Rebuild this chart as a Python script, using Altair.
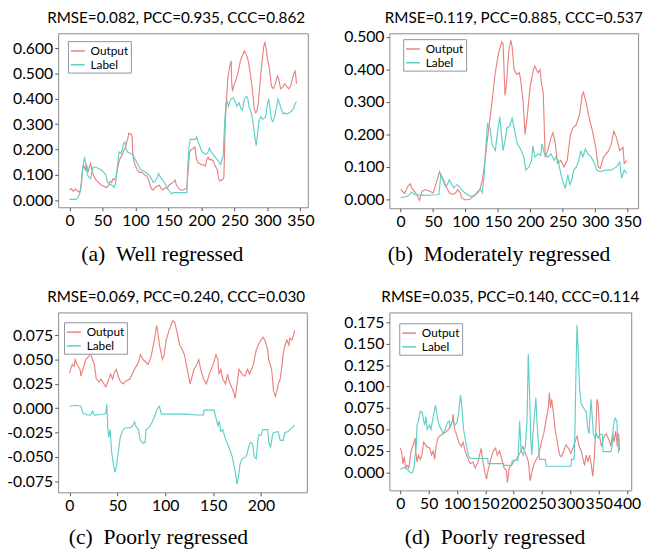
import altair as alt
import pandas as pd

# ---------------- data (t, value) ----------------
a_output = [(0,0.040),(3,0.045),(6,0.035),(9,0.045),(12,0.038),(14,0.032),(16,0.035),(18,0.07),(20,0.13),(22,0.135),(24,0.12),(26,0.14),(28,0.11),(30,0.13),(32,0.145),(34,0.12),(36,0.10),(40,0.08),(44,0.07),(48,0.06),(52,0.055),(56,0.05),(60,0.06),(62,0.075),(64,0.07),(66,0.085),(68,0.08),(70,0.09),(72,0.11),(74,0.14),(76,0.16),(78,0.17),(80,0.18),(82,0.195),(84,0.205),(86,0.22),(88,0.24),(90,0.265),(92,0.26),(94,0.26),(95,0.25),(96,0.18),(98,0.15),(100,0.135),(103,0.12),(106,0.11),(110,0.11),(114,0.10),(117,0.095),(120,0.08),(122,0.06),(124,0.045),(127,0.04),(130,0.05),(133,0.055),(136,0.06),(139,0.045),(142,0.04),(145,0.05),(148,0.045),(151,0.06),(154,0.065),(157,0.07),(160,0.08),(162,0.06),(165,0.05),(168,0.04),(172,0.04),(176,0.045),(178,0.05),(180,0.12),(182,0.19),(185,0.20),(188,0.205),(190,0.21),(192,0.17),(194,0.15),(197,0.145),(200,0.14),(203,0.14),(206,0.135),(208,0.16),(210,0.17),(212,0.16),(215,0.16),(218,0.155),(220,0.14),(222,0.13),(224,0.12),(226,0.085),(228,0.075),(230,0.08),(232,0.08),(234,0.09),(236,0.30),(238,0.40),(240,0.48),(243,0.53),(245,0.55),(246,0.46),(247,0.43),(250,0.46),(253,0.48),(256,0.51),(259,0.55),(262,0.57),(265,0.59),(268,0.575),(271,0.55),(274,0.50),(277,0.44),(280,0.36),(282,0.345),(284,0.35),(286,0.38),(288,0.44),(290,0.50),(292,0.55),(294,0.60),(296,0.625),(298,0.60),(300,0.56),(303,0.52),(306,0.45),(309,0.44),(312,0.46),(315,0.49),(317,0.48),(320,0.44),(323,0.445),(326,0.46),(329,0.45),(332,0.44),(335,0.45),(338,0.48),(340,0.50),(342,0.51),(343,0.49),(344,0.46)]
a_label = [(0,0.003),(5,0.003),(10,0.004),(13,0.01),(16,0.03),(18,0.06),(20,0.12),(22,0.16),(23,0.167),(25,0.14),(27,0.10),(30,0.09),(32,0.085),(34,0.11),(36,0.13),(40,0.13),(44,0.125),(48,0.12),(52,0.11),(55,0.10),(57,0.075),(60,0.065),(64,0.06),(68,0.05),(70,0.07),(73,0.14),(75,0.19),(78,0.185),(80,0.20),(82,0.225),(84,0.23),(86,0.20),(88,0.19),(92,0.185),(96,0.18),(100,0.16),(104,0.14),(108,0.12),(112,0.115),(116,0.11),(120,0.10),(124,0.085),(127,0.07),(130,0.075),(133,0.09),(135,0.105),(138,0.09),(141,0.08),(144,0.07),(147,0.055),(150,0.04),(153,0.03),(155,0.025),(157,0.03),(165,0.03),(172,0.03),(178,0.03),(179,0.12),(181,0.21),(183,0.24),(187,0.24),(191,0.24),(193,0.25),(195,0.23),(198,0.21),(201,0.19),(204,0.185),(207,0.18),(210,0.19),(212,0.205),(215,0.19),(218,0.18),(221,0.17),(224,0.16),(227,0.15),(229,0.14),(231,0.16),(233,0.175),(235,0.30),(237,0.38),(239,0.39),(241,0.37),(243,0.39),(245,0.40),(248,0.405),(251,0.39),(254,0.37),(257,0.385),(260,0.36),(262,0.355),(265,0.40),(268,0.41),(270,0.405),(272,0.37),(275,0.35),(278,0.31),(280,0.27),(282,0.23),(283,0.215),(285,0.26),(287,0.31),(290,0.33),(293,0.32),(296,0.325),(298,0.34),(300,0.38),(302,0.40),(304,0.36),(306,0.32),(308,0.31),(311,0.33),(314,0.37),(316,0.40),(318,0.385),(321,0.36),(324,0.34),(327,0.345),(330,0.34),(333,0.345),(336,0.35),(339,0.36),(342,0.38),(344,0.39)]

b_output = [(0,0.03),(6,0.018),(11,0.04),(15,0.048),(17,0.035),(21,0.025),(26,0.01),(29,-0.003),(33,0.025),(38,0.03),(45,0.025),(50,0.02),(55,0.05),(60,0.085),(62,0.075),(66,0.06),(70,0.04),(75,0.02),(80,0.015),(85,0.02),(88,0.03),(92,0.02),(94,0.005),(100,-0.002),(107,0.0),(112,0.01),(119,0.02),(123,0.035),(126,0.06),(129,0.10),(133,0.17),(136,0.22),(141,0.30),(146,0.39),(151,0.45),(156,0.485),(158,0.48),(161,0.32),(163,0.35),(167,0.46),(170,0.49),(172,0.47),(175,0.40),(179,0.385),(183,0.39),(185,0.37),(189,0.30),(192,0.20),(195,0.25),(200,0.35),(205,0.40),(207,0.41),(212,0.39),(215,0.40),(217,0.36),(220,0.33),(223,0.13),(227,0.15),(232,0.19),(235,0.205),(238,0.18),(242,0.11),(247,0.12),(252,0.10),(257,0.12),(262,0.20),(266,0.22),(271,0.23),(276,0.26),(280,0.32),(282,0.33),(286,0.30),(291,0.25),(296,0.21),(301,0.16),(305,0.10),(308,0.095),(313,0.13),(321,0.15),(325,0.17),(329,0.21),(333,0.19),(338,0.15),(343,0.16),(345,0.11),(349,0.12)]
b_label = [(0,0.005),(11,0.01),(17,0.022),(21,0.015),(35,0.012),(55,0.014),(59,0.015),(62,0.078),(65,0.06),(69,0.04),(72,0.045),(75,0.06),(79,0.045),(82,0.035),(87,0.045),(90,0.04),(94,0.03),(99,0.02),(107,0.01),(114,0.01),(119,0.025),(123,0.03),(126,0.02),(129,0.08),(131,0.15),(134,0.232),(138,0.22),(141,0.17),(146,0.15),(149,0.20),(153,0.254),(156,0.19),(158,0.15),(161,0.18),(164,0.22),(168,0.225),(172,0.25),(175,0.22),(180,0.17),(185,0.155),(190,0.13),(193,0.09),(198,0.10),(202,0.12),(204,0.165),(207,0.13),(212,0.14),(216,0.135),(218,0.17),(222,0.14),(227,0.13),(232,0.14),(237,0.12),(239,0.13),(243,0.12),(247,0.08),(251,0.05),(254,0.035),(258,0.075),(261,0.045),(264,0.06),(267,0.09),(271,0.10),(275,0.12),(278,0.15),(281,0.13),(285,0.155),(289,0.14),(294,0.13),(298,0.115),(303,0.09),(308,0.085),(316,0.09),(325,0.09),(333,0.10),(338,0.115),(341,0.065),(345,0.09),(349,0.08)]

c_output = [(0,0.036),(3,0.045),(5,0.043),(6,0.05),(8,0.045),(11,0.04),(12,0.033),(14,0.04),(17,0.05),(20,0.053),(22,0.057),(24,0.05),(26,0.045),(28,0.03),(31,0.027),(33,0.03),(36,0.025),(38,0.022),(40,0.027),(43,0.035),(45,0.03),(47,0.037),(49,0.04),(51,0.032),(53,0.028),(56,0.025),(59,0.028),(63,0.03),(66,0.036),(69,0.042),(72,0.047),(74,0.055),(77,0.05),(79,0.048),(82,0.045),(85,0.052),(87,0.062),(89,0.072),(91,0.085),(92,0.08),(94,0.065),(97,0.05),(99,0.055),(101,0.07),(104,0.08),(106,0.085),(108,0.09),(110,0.088),(113,0.075),(115,0.065),(117,0.062),(120,0.055),(122,0.045),(125,0.03),(126,0.025),(130,0.04),(133,0.045),(135,0.05),(137,0.04),(140,0.03),(143,0.025),(146,0.035),(150,0.045),(153,0.055),(155,0.05),(156,0.035),(158,0.04),(160,0.03),(163,0.025),(165,0.035),(167,0.027),(170,0.02),(172,0.015),(173,0.01),(175,0.025),(177,0.04),(180,0.035),(183,0.033),(186,0.04),(188,0.035),(192,0.045),(195,0.06),(198,0.067),(202,0.073),(204,0.07),(207,0.06),(208,0.05),(211,0.04),(212,0.03),(213,0.018),(215,0.012),(217,0.02),(218,0.025),(220,0.03),(222,0.045),(223,0.055),(225,0.065),(227,0.07),(229,0.065),(230,0.072),(232,0.07),(234,0.075),(235,0.08)]
c_label = [(0,0.002),(6,0.003),(12,0.002),(14,-0.005),(19,-0.007),(22,-0.007),(24,-0.003),(26,-0.007),(36,-0.006),(38,-0.005),(39,0.004),(40,-0.02),(41,-0.03),(42.5,-0.022),(44,-0.045),(46,-0.058),(47.5,-0.066),(49,-0.06),(51,-0.045),(53,-0.03),(56,-0.022),(59,-0.02),(64,-0.02),(66,-0.018),(68,-0.014),(69,-0.018),(72,-0.022),(74,-0.033),(77,-0.036),(79,-0.035),(80,-0.022),(83,-0.02),(86,-0.015),(89,-0.008),(92,0.0),(94,0.002),(96,-0.006),(103,-0.006),(120,-0.006),(133,-0.007),(140,-0.007),(140.5,-0.002),(151,-0.002),(153,-0.01),(155,-0.018),(156.5,-0.013),(158,-0.024),(160,-0.022),(163,-0.032),(166.5,-0.04),(170,-0.05),(171.5,-0.058),(173,-0.065),(175,-0.078),(176.5,-0.07),(178,-0.058),(180,-0.052),(184,-0.05),(185.5,-0.047),(187,-0.04),(189,-0.035),(191,-0.036),(193,-0.05),(195,-0.052),(197,-0.03),(198,-0.027),(200,-0.028),(202,-0.022),(207,-0.022),(208,-0.035),(210,-0.04),(212,-0.027),(213,-0.025),(218,-0.024),(220,-0.033),(223,-0.033),(225,-0.025),(228.5,-0.024),(230,-0.022),(232.5,-0.02),(235,-0.017)]

d_output = [(0,0.028),(2,0.024),(4.5,0.01),(7,0.018),(9,0.005),(12,0.008),(15,0.005),(17,0.015),(19,0.025),(21.5,0.03),(24,0.035),(26,0.04),(27,0.025),(29.4,0.012),(32,0.02),(35,0.015),(38,0.02),(41,0.035),(43.5,0.033),(46,0.03),(52,0.028),(55,0.02),(58,0.025),(60.5,0.015),(63,0.03),(66,0.04),(69,0.042),(75,0.045),(80,0.047),(85,0.05),(89,0.055),(92,0.06),(93,0.068),(95.6,0.05),(98.5,0.045),(103,0.035),(107.5,0.03),(111,0.035),(114,0.025),(118,0.018),(123,0.01),(128,0.012),(132,0.005),(137,0.012),(142.6,0.028),(145,0.015),(149,0.0),(152,-0.008),(155,0.003),(159.5,0.015),(164,0.025),(168,0.028),(171,0.02),(175,0.025),(179,0.015),(183,0.005),(187,0.002),(189,-0.012),(192,0.005),(196,0.008),(200,0.012),(205,0.015),(209,0.02),(213,0.025),(216,0.03),(219,0.025),(222,0.02),(226,0.012),(229,-0.01),(232,0.0),(236,0.01),(240,0.015),(244,0.02),(249,0.035),(253,0.045),(257,0.06),(261,0.075),(263,0.093),(265,0.075),(267,0.085),(270,0.07),(273,0.05),(277,0.035),(281,0.02),(284,0.018),(288.5,0.025),(292.5,0.032),(296.5,0.028),(301,0.022),(305.5,0.03),(309.5,0.038),(312,0.042),(315.7,0.03),(319,0.025),(322.5,0.015),(325,0.008),(328,0.02),(331,0.012),(334,0.02),(336.6,0.01),(339.5,-0.005),(342,0.015),(345,0.05),(347,0.085),(349,0.08),(352,0.04),(355,0.03),(358.7,0.04),(363,0.045),(368,0.038),(371.7,0.03),(374.5,0.045),(377,0.035),(380,0.048),(383,0.03),(385,0.045),(387,0.025)]
d_label = [(0,0.003),(4,0.005),(10,0.005),(14,0.002),(17,0.0),(21,-0.001),(24,0.005),(25.5,0.018),(28,0.03),(29.4,0.055),(32,0.06),(35,0.071),(38.5,0.07),(41,0.06),(43,0.055),(45,0.065),(47.5,0.05),(51,0.055),(54,0.05),(56.5,0.06),(59.4,0.07),(62,0.078),(65,0.065),(68,0.055),(72,0.05),(76,0.045),(79,0.05),(83,0.058),(86,0.06),(88,0.052),(90.5,0.058),(93,0.06),(96,0.055),(100,0.058),(103,0.07),(106,0.09),(108.6,0.075),(111.5,0.05),(115.4,0.035),(120,0.02),(123,0.016),(137,0.016),(154,0.016),(155,0.01),(182,0.01),(183,0.008),(196,0.008),(197.5,0.014),(207.6,0.014),(210.5,0.06),(213,0.025),(217,0.02),(220.6,0.03),(223.5,0.06),(225.7,0.138),(228,0.09),(230,0.04),(232,0.02),(234,0.045),(237,0.07),(239,0.087),(241,0.06),(243,0.04),(245.5,0.015),(255.7,0.015),(257.4,0.007),(281,0.007),(301,0.007),(302,0.015),(306.6,0.015),(307.8,0.04),(310,0.12),(311.7,0.172),(314,0.14),(316,0.10),(319,0.08),(323.5,0.075),(328,0.07),(331,0.05),(333,0.045),(335,0.07),(336.6,0.085),(338,0.07),(340.6,0.045),(343.4,0.04),(346,0.045),(349,0.04),(352,0.044),(356.4,0.044),(357.6,0.024),(366,0.024),(371.7,0.024),(373.4,0.03),(376,0.055),(379,0.063),(382,0.06),(385,0.022)]

titles = ["RMSE=0.082, PCC=0.935, CCC=0.862", "RMSE=0.119, PCC=0.885, CCC=0.537",
          "RMSE=0.069, PCC=0.240, CCC=0.030", "RMSE=0.035, PCC=0.140, CCC=0.114"]
captions = ["(a)\u2002Well regressed", "(b)\u2002Moderately regressed",
            "(c)\u2002Poorly regressed", "(d)\u2002Poorly regressed"]
series_names = ["Output", "Label"]
x_ticks_ab = [0, 50, 100, 150, 200, 250, 300, 350]
x_ticks_c = [0, 50, 100, 150, 200]
x_ticks_d = [0, 50, 100, 150, 200, 250, 300, 350, 400]
y_ticks_a = [0.0, 0.1, 0.2, 0.3, 0.4, 0.5, 0.6]
y_ticks_b = [0.0, 0.1, 0.2, 0.3, 0.4, 0.5]
y_ticks_c = [-0.075, -0.05, -0.025, 0.0, 0.025, 0.05, 0.075]
y_ticks_d = [0.0, 0.025, 0.05, 0.075, 0.1, 0.125, 0.15, 0.175]

OUT_COLOR = "#E8827E"
LAB_COLOR = "#5CCFC8"
Y_LABEL_EXPR = "replace(format(datum.value, '.3f'), '\u2212', '-')"


def make_df(out, lab):
    rows = [{"t": t, "v": v, "series": "Output"} for t, v in out]
    rows += [{"t": t, "v": v, "series": "Label"} for t, v in lab]
    return pd.DataFrame(rows)


def panel(df, title, caption, xdom, xticks, ydom, yticks, w, h, leg, cap, tdx, toff):
    return alt.Chart(df).mark_line(strokeWidth=1.15).encode(
        x=alt.X("t:Q", scale=alt.Scale(domain=xdom, nice=False, zero=False),
                axis=alt.Axis(values=xticks, format="d", title=caption,
                              titleX=cap[0], titleY=cap[1], titleAlign="center",
                              titleBaseline="middle", labelFlush=False, labelOverlap=False)),
        y=alt.Y("v:Q", scale=alt.Scale(domain=ydom, nice=False, zero=False),
                axis=alt.Axis(values=yticks, labelExpr=Y_LABEL_EXPR, title=None, labelOverlap=False)),
        color=alt.Color("series:N", sort=series_names,
                        scale=alt.Scale(domain=series_names, range=[OUT_COLOR, LAB_COLOR]),
                        legend=alt.Legend(title=None, orient="none", legendX=leg[0], legendY=leg[1])),
    ).properties(width=w, height=h, title=alt.TitleParams(title, dx=tdx, offset=toff))


pa = panel(make_df(a_output, a_label), titles[0], captions[0], [-17.2, 361.2], x_ticks_ab,
           [-0.028, 0.659], y_ticks_a, 254, 177, (10, 8), (105.5, 47), -7, 7)
pb = panel(make_df(b_output, b_label), titles[1], captions[1], [-17.4, 366.4], x_ticks_ab,
           [-0.0275, 0.5115], y_ticks_b, 253, 178, (14, 6), (111, 46), 0, 3)
pc = panel(make_df(c_output, c_label), titles[2], captions[2], [-11.8, 247.8], x_ticks_c,
           [-0.0864, 0.0984], y_ticks_c, 253, 183, (6, 10), (101.5, 45), -6.5, 7)
pd_ = panel(make_df(d_output, d_label), titles[3], captions[3], [-19.4, 407.4], x_ticks_d,
            [-0.0212, 0.1865], y_ticks_d, 246, 181, (10, 11), (107, 47), 0, 7)

chart = alt.concat(pa, pb, pc, pd_, columns=2, spacing={"row": 25, "column": 29}).resolve_scale(
    x="independent", y="independent", color="independent"
).resolve_legend(color="independent").properties(
    padding={"top": -3, "left": -2, "right": 0, "bottom": 0}
).configure_view(
    stroke="#8a8a8a", strokeWidth=1
).configure_axis(
    labelFont="Lato", labelFontSize=16, labelColor="black", domain=False, grid=False,
    ticks=True, tickColor="#555555", tickSize=3.5, labelPadding=2,
    titleFont="Liberation Serif", titleFontSize=22, titleFontWeight="normal", titleColor="black"
).configure_title(
    font="Lato", fontSize=15.5, fontWeight="normal", color="black", anchor="middle"
).configure_legend(
    labelFont="Lato", labelFontSize=12, labelColor="black", symbolType="stroke",
    symbolStrokeWidth=1.5, symbolSize=200, strokeColor="#8f93a3", fillColor="white",
    padding=2, rowPadding=0, labelOffset=5, cornerRadius=0
)

chart.save("out.html", embed_options={"renderer": "svg", "actions": False})
